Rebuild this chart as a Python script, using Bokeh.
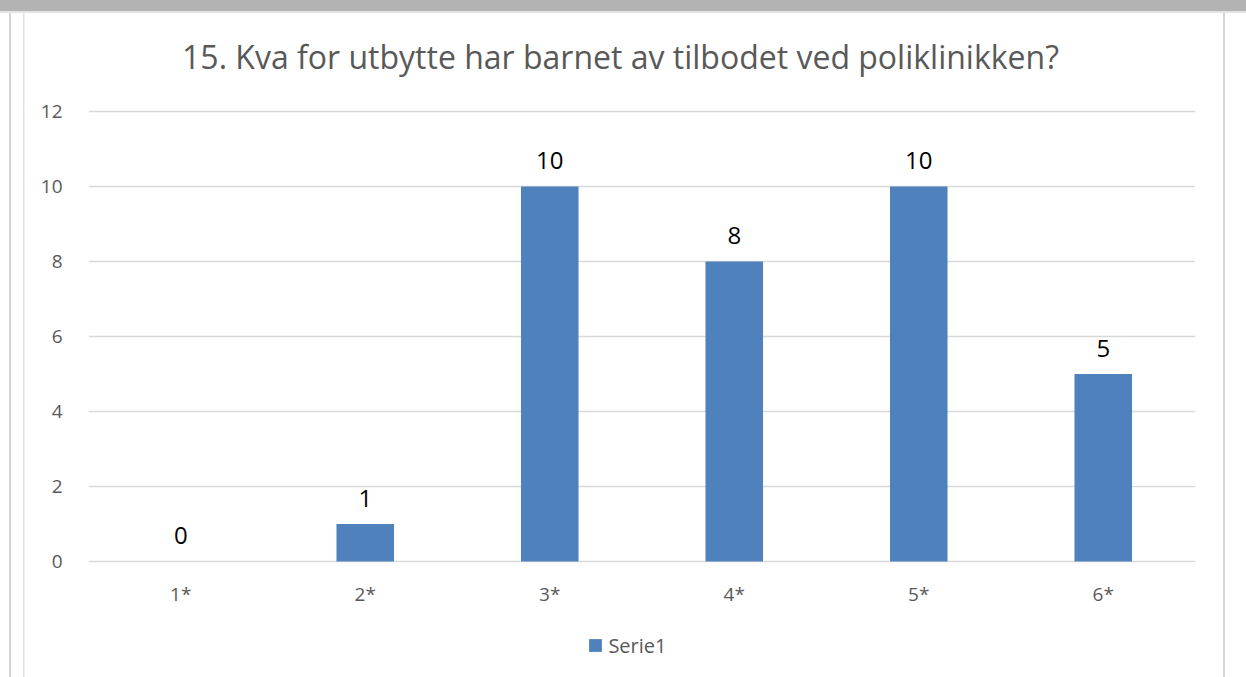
from bokeh.plotting import figure
from bokeh.models import (FactorRange, Range1d, FixedTicker, ColumnDataSource, LabelSet,
                          Label, Legend, LegendItem)
from bokeh.core.properties import value
from bokeh.embed import file_html
from bokeh.resources import INLINE

categories = ["1*", "2*", "3*", "4*", "5*", "6*"]
values = [0, 1, 10, 8, 10, 5]
y_ticks = [0, 2, 4, 6, 8, 10, 12]
series_name = "Serie1"
title_text = "15. Kva for utbytte har barnet av tilbodet ved poliklinikken?"

FONT = "Open Sans"
GREY_TXT = "#595959"
BAR = "#4f81bd"

W, H = 1246, 677
PX_PER_UNIT = 37.5
# frame spans the full canvas height; value 0 sits 116 px above the bottom, 12 sits 111 px below the top
Y_LO = -116 / PX_PER_UNIT
Y_HI = 12 + 111 / PX_PER_UNIT

p = figure(width=W, height=H, x_range=FactorRange(*categories), y_range=Range1d(Y_LO, Y_HI),
           output_backend="svg", toolbar_location=None, x_axis_location=None,
           min_border_left=88, min_border_right=51, min_border_top=0, min_border_bottom=0)
p.outline_line_color = None
p.background_fill_color = None
p.border_fill_color = None
# page decorations (grey header band and frame lines of the surrounding document)
p.styles = {"background": (
    "linear-gradient(#b3b3b3,#b3b3b3) 0px 0px / 100% 11px no-repeat, "
    "linear-gradient(#e3e3e3,#e3e3e3) 0px 11px / 100% 2px no-repeat, "
    "linear-gradient(#d4d4d4,#d4d4d4) 9px 13px / 2px 100% no-repeat, "
    "linear-gradient(#e3e3e3,#e3e3e3) 23px 13px / 1.5px 100% no-repeat, "
    "linear-gradient(#d6d6d6,#d6d6d6) 1223px 13px / 2px 100% no-repeat, "
    "#ffffff")}

src = ColumnDataSource(dict(x=categories, top=values, base=[0] * len(categories),
                            lbl=[str(v) for v in values]))
r = p.vbar(x="x", top="top", width=0.312, source=src, fill_color=BAR, line_color=None)

p.xgrid.grid_line_color = None
p.ygrid.grid_line_color = "#d9d9d9"
p.ygrid.grid_line_width = 1.3
p.yaxis.ticker = FixedTicker(ticks=y_ticks)

ax = p.yaxis[0]
ax.axis_line_color = None
ax.major_tick_line_color = None
ax.minor_tick_line_color = None
ax.major_label_text_color = GREY_TXT
ax.major_label_text_font = FONT
ax.major_label_text_font_size = "19px"
ax.major_label_standoff = 20

# category labels under the baseline
p.add_layout(LabelSet(x="x", y="base", text="x", source=src, y_offset=-32,
                      text_align="center", text_baseline="middle", text_color=GREY_TXT,
                      text_font=value(FONT), text_font_size=value("19px")))

# data labels
p.add_layout(LabelSet(x="x", y="top", text="lbl", source=src, y_offset=26,
                      text_align="center", text_baseline="middle", text_color="#000000",
                      text_font=value(FONT), text_font_size=value("24px")))

# chart title (screen units relative to the frame: x from left, y from bottom)
p.add_layout(Label(x=532, y=621, x_units="screen", y_units="screen", text=title_text,
                   text_align="center", text_baseline="middle", text_color=GREY_TXT,
                   text_font=FONT, text_font_size="32px"))

legend = Legend(items=[LegendItem(label=series_name, renderers=[r])],
                location=(499.4, 18.5), orientation="horizontal",
                glyph_width=16, glyph_height=16, label_standoff=5, label_height=26,
                label_text_font=FONT, label_text_font_size="20px", label_text_color=GREY_TXT,
                border_line_color=None, background_fill_alpha=0, padding=0, margin=0)
p.add_layout(legend)

open("out.html", "w").write(file_html(p, INLINE))
